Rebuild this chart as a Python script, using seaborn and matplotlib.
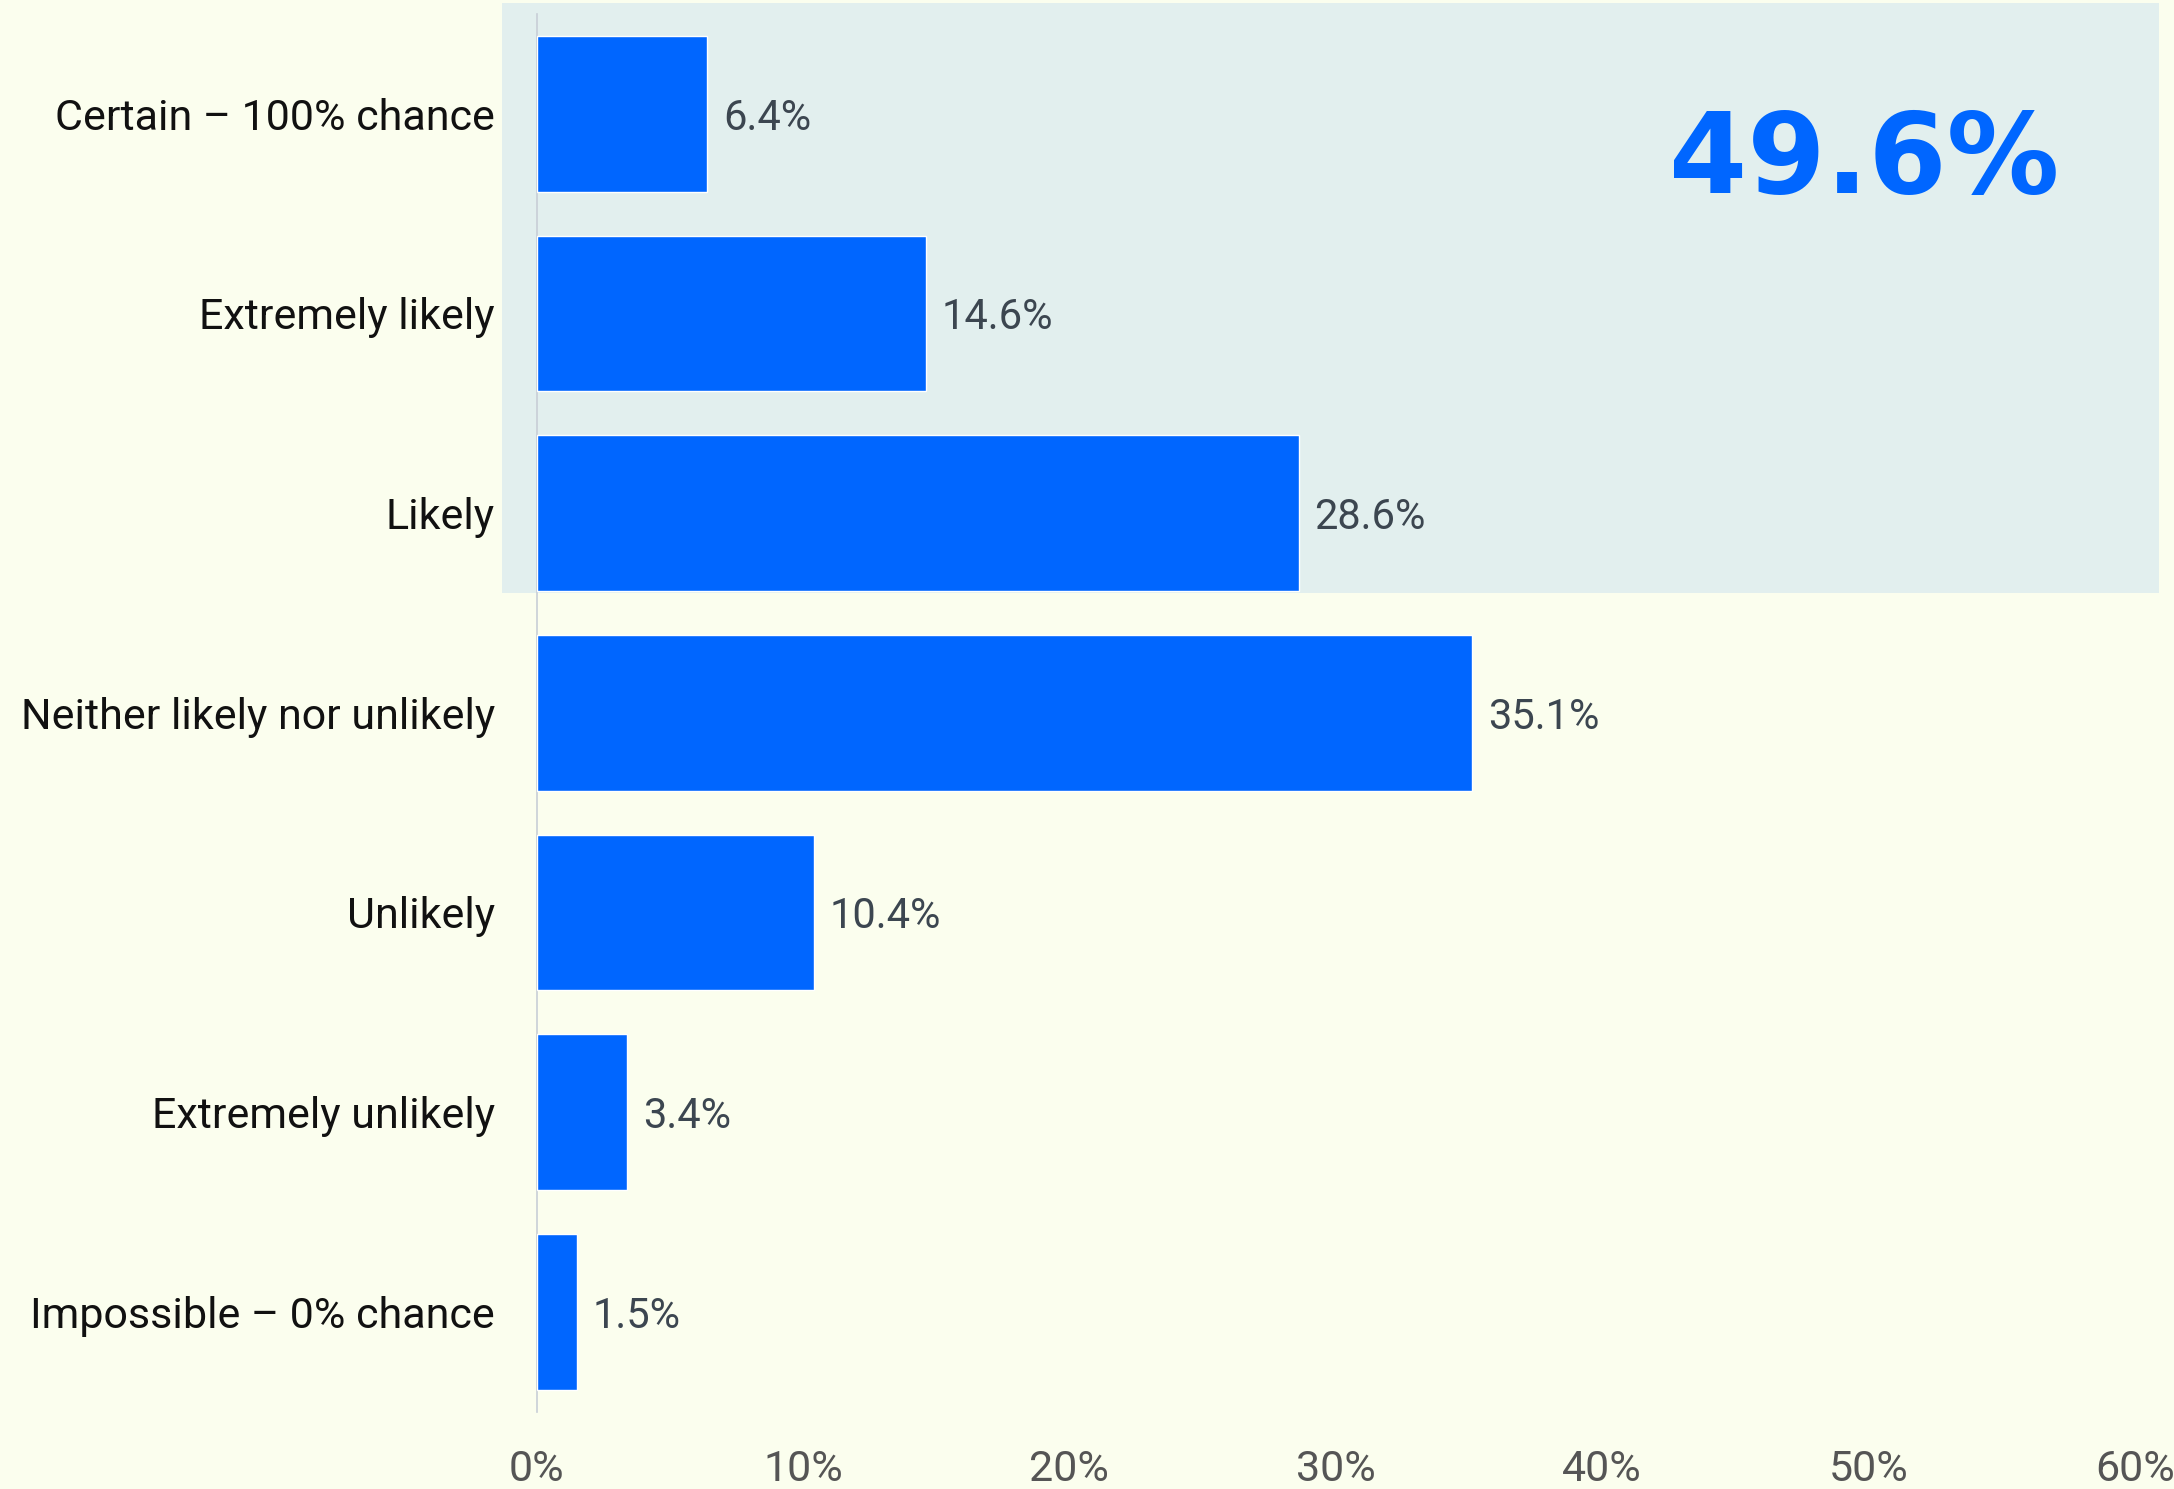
import matplotlib
matplotlib.use("Agg")
import matplotlib.pyplot as plt
import matplotlib.patches as mpatches
import seaborn as sns
import pandas as pd

# Survey responses and their shares (%)
categories = [
    "Certain – 100% chance",
    "Extremely likely",
    "Likely",
    "Neither likely nor unlikely",
    "Unlikely",
    "Extremely unlikely",
    "Impossible – 0% chance",
]
shares = [6.4, 14.6, 28.6, 35.1, 10.4, 3.4, 1.5]
x_ticks = [0, 10, 20, 30, 40, 50, 60]
x_tick_labels = ["0%", "10%", "20%", "30%", "40%", "50%", "60%"]
headline = "49.6%"

BG = "#FBFEEE"
BOX = "#E2EFEE"
BAR = "#0066FF"

sns.set_theme(style="white")
plt.rcParams["font.family"] = ["Roboto", "DejaVu Sans"]

df = pd.DataFrame({"category": categories, "share": shares})

fig = plt.figure(figsize=(21.74, 14.89), dpi=100, facecolor=BG)
ax = fig.add_axes([536.6 / 2174, 1 - 1411.5 / 1489, (2135 - 536.6) / 2174, (1411.5 - 14) / 1489])
ax.set_facecolor(BG)

# highlight panel behind the top three (likely) answers
ax.add_patch(mpatches.Rectangle((-1.3, -0.555), 62.2, 2.955, facecolor=BOX,
                                edgecolor="none", zorder=0, clip_on=False))

sns.barplot(data=df, x="share", y="category", orient="h", color=BAR,
            saturation=1, width=0.78, ax=ax, zorder=2)

for i, v in enumerate(shares):
    ax.text(v + 0.6, i, f"{v}%", va="center_baseline", ha="left", fontsize=30,
            color="#3C4650", zorder=3)

ax.text(49.85, 0.24, headline, ha="center", va="center", fontsize=81,
        fontweight="bold", color=BAR, zorder=3, family="DejaVu Sans")

ax.set_xlim(0, 60)
ax.set_ylim(6.5, -0.5)
ax.set_xticks(x_ticks)
ax.set_xticklabels(x_tick_labels, fontsize=31, color="#555555")
ax.tick_params(axis="y", length=0, pad=30, labelsize=31, labelcolor="#111111")
ax.tick_params(axis="x", length=0, pad=27)
ax.set_xlabel("")
ax.set_ylabel("")
for s in ["top", "right", "bottom"]:
    ax.spines[s].set_visible(False)
ax.spines["left"].set_color("#C8CED6")
ax.spines["left"].set_linewidth(1.2)
ax.spines["left"].set_zorder(1)

fig.savefig("out.png", dpi=100, facecolor=BG)
